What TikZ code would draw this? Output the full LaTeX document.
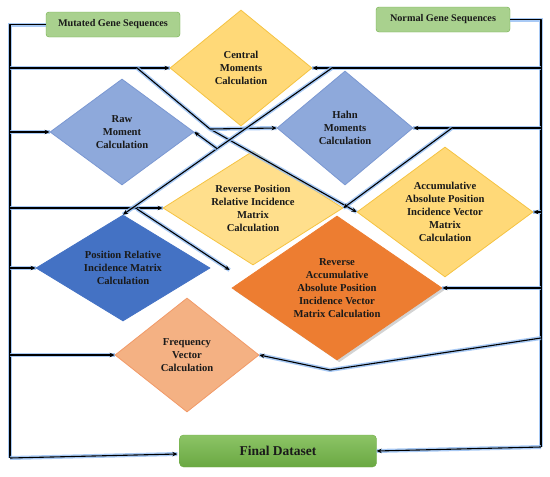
\documentclass[tikz,border=0pt]{standalone}
\usepackage{fontspec}
\setmainfont{Liberation Serif}
\definecolor{GreenFill}{HTML}{A9D18E}
\definecolor{GreenEdge}{HTML}{70AD47}
\definecolor{FinTop}{HTML}{8CC466}
\definecolor{FinBot}{HTML}{6AA842}
\definecolor{GoldFill}{HTML}{FFD978}
\definecolor{GoldEdge}{HTML}{F5C342}
\definecolor{LightBlue}{HTML}{8EA9DB}
\definecolor{LightBlueEdge}{HTML}{7B98D2}
\definecolor{MidBlue}{HTML}{4472C4}
\definecolor{DarkOrange}{HTML}{ED7D31}
\definecolor{Salmon}{HTML}{F4B183}
\definecolor{SalmonEdge}{HTML}{F19A68}
\definecolor{GlowBlue}{HTML}{93BDF3}
\definecolor{TextDark}{HTML}{1A1A1A}
\usepackage{tikz}
\usetikzlibrary{shapes.geometric, arrows.meta, positioning, calc, shadows}

\begin{document}
\begin{tikzpicture}[
    x=1pt, y=-1pt,
    gbox/.style={draw=GreenEdge, fill=GreenFill, rounded corners=3pt, minimum width=134pt, minimum height=25pt, inner sep=0pt, font=\fontsize{10.2}{11}\selectfont\bfseries, text=TextDark},
    dia/.style={diamond, inner sep=0pt, align=center, line width=0.8pt, font=\fontsize{10.6}{13}\selectfont\bfseries, text=TextDark},
    ln/.style={line width=1.1pt, black, line join=round, preaction={draw=GlowBlue, line width=4pt, opacity=0.8, -}},
    arr/.style={ln, -{Stealth[length=5pt, width=4.5pt]}}
]
    \useasboundingbox (0,0) rectangle (550,477);

    \node[gbox] (mut) at (113,24.5) {Mutated Gene Sequences};
    \node[gbox] (nor) at (443,19.5) {Normal Gene Sequences};

    \node[dia, fill=GoldFill, draw=GoldEdge, minimum width=142pt, minimum height=116pt, aspect=1.22] (cm) at (241,68) {Central\\Moments\\Calculation};
    \node[dia, fill=LightBlue, draw=LightBlueEdge, minimum width=144pt, minimum height=106pt, aspect=1.36] (rm) at (122,132) {Raw\\Moment\\Calculation};
    \node[dia, fill=LightBlue, draw=LightBlueEdge, minimum width=136pt, minimum height=114pt, aspect=1.19] (hm) at (345,128) {Hahn\\Moments\\Calculation};
    \node[dia, fill=GoldFill!85!white, draw=GoldEdge, minimum width=180pt, minimum height=114pt, aspect=1.58] (rp) at (253,208) {Reverse Position\\Relative Incidence\\Matrix\\Calculation};
    \node[dia, fill=GoldFill, draw=GoldEdge, minimum width=176pt, minimum height=130pt, aspect=1.35] (aa) at (445,212) {Accumulative\\Absolute Position\\Incidence Vector\\Matrix\\Calculation};
    \node[dia, fill=MidBlue, draw=MidBlue, minimum width=174pt, minimum height=106pt, aspect=1.64] (pr) at (123,268) {Position Relative\\Incidence Matrix\\Calculation};
    \node[dia, fill=DarkOrange, draw=DarkOrange, drop shadow={opacity=0.35}, minimum width=210pt, minimum height=144pt, aspect=1.46] (ra) at (337,288) {Reverse\\Accumulative\\Absolute Position\\Incidence Vector\\Matrix Calculation};
    \node[dia, fill=Salmon, draw=SalmonEdge, minimum width=144pt, minimum height=114pt, aspect=1.26] (fq) at (187,355) {Frequency\\Vector\\Calculation};

    \node[draw=GreenEdge, top color=FinTop, bottom color=FinBot, rounded corners=4pt, minimum width=197pt, minimum height=32pt, inner sep=0pt, font=\fontsize{13.5}{15}\selectfont\bfseries, text=TextDark] (fin) at (278,451) {Final Dataset};

    \coordinate (lt) at (10,24.5);
    \coordinate (lb) at (10,458);
    \coordinate (rt) at (541,19.5);
    \coordinate (rb) at (541,447);
    \coordinate (rk) at (541,338);
    \coordinate (kink) at (330,370);
    \coordinate (d1) at (137,68);
    \coordinate (d1b) at (210,129);
    \coordinate (d2) at (332,68);
    \coordinate (d2b) at ($(d2)!0.55!(pr.north)$);
    \coordinate (d3) at (452,128);
    \coordinate (d4) at (137,209);

    \draw[ln] (mut.west) -- (lt) -- (lb);
    \draw[ln] (nor.east) -- (rt) -- (rb);

    \draw[arr] (lt |- cm.west) -- (cm.west);
    \draw[arr] (lt |- rm.west) -- (rm.west);
    \draw[arr] (lt |- rp.west) -- (rp.west);
    \draw[arr] (lt |- pr.west) -- (pr.west);
    \draw[arr] (lt |- fq.west) -- (fq.west);
    \draw[arr] (lb) -- ($(fin.west)+(-2,3)$);

    \draw[arr] (rt |- cm.east) -- (cm.east);
    \draw[arr] (rt |- hm.east) -- (hm.east);
    \draw[arr] (rt |- aa.east) -- (aa.east);
    \draw[arr] (rt |- ra.east) -- (ra.east);
    \draw[arr] (rk) -- (kink) -- (fq.east);
    \draw[arr] (rb) -- (fin.east);

    \draw[arr] (d1) -- (d1b) -- (aa.west);
    \draw[arr] (d1b) -- (hm.west);
    \draw[arr] (d2) -- (pr.north);
    \draw[arr] (d2b) -- (rm.east);
    \draw[arr] (d3) -- (rp.east);
    \draw[arr] (d4) -- ($(ra.west)+(-2,-18)$);
\end{tikzpicture}
\end{document}
